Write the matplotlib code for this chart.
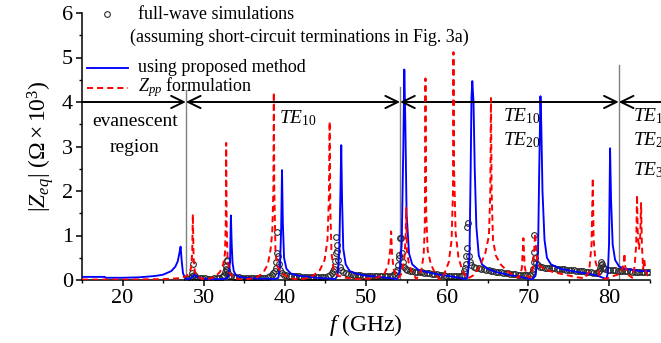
import matplotlib
matplotlib.use('Agg')
import matplotlib.pyplot as plt
from matplotlib.ticker import MultipleLocator
from matplotlib.lines import Line2D

plt.rcParams['font.family'] = ['Liberation Serif', 'DejaVu Serif']
plt.rcParams['mathtext.fontset'] = 'custom'
plt.rcParams['mathtext.rm'] = 'Liberation Serif'
plt.rcParams['mathtext.it'] = 'Liberation Serif:italic'
plt.rcParams['mathtext.bf'] = 'Liberation Serif:bold'

# ---------------- data ----------------
# full-wave simulations (open circles)
fw_f = [28.0, 28.3, 28.5, 28.6, 28.66, 28.75, 28.9, 29.2, 29.5, 29.8, 30.1, 30.4, 30.7, 31.0, 31.3, 31.6, 31.9,
        32.2, 32.4, 32.55, 32.65, 32.72, 32.78, 32.82, 32.86, 32.92, 33.0, 33.15, 33.4, 33.7, 34.0, 34.3, 34.6,
        34.9, 35.2, 35.5, 35.8, 36.1, 36.4, 36.7, 37.0, 37.3, 37.6, 37.9, 38.2, 38.45, 38.6, 38.75, 38.85, 38.93,
        39.0, 39.08, 39.15, 39.25, 39.4, 39.6, 39.9, 40.2, 40.5, 40.8, 41.1, 41.4, 41.7, 42.0, 42.3, 42.6, 42.9,
        43.2, 43.5, 43.8, 44.1, 44.4, 44.7, 45.0, 45.3, 45.55, 45.75, 45.9, 46.05, 46.15, 46.25, 46.33, 46.4,
        46.48, 46.6, 46.75, 46.95, 47.2, 47.5, 47.8, 48.1, 48.4, 48.7, 49.0, 49.3, 49.6, 49.9, 50.2, 50.5, 50.8,
        51.1, 51.4, 51.7, 52.0, 52.3, 52.6, 52.9, 53.2, 53.45, 53.65, 53.8, 53.92, 54.02, 54.12, 54.25, 54.32,
        54.42, 54.55, 54.7, 54.9, 55.1, 55.4, 55.7, 56.0, 56.3, 56.6, 56.9, 57.2, 57.5, 57.8, 58.1, 58.4, 58.7,
        59.0, 59.3, 59.6, 59.9, 60.2, 60.5, 60.8, 61.1, 61.4, 61.7, 61.95, 62.1, 62.2, 62.3, 62.38, 62.44, 62.5,
        62.55, 62.65, 62.8, 63.0, 63.3, 63.6, 63.9, 64.2, 64.5, 64.8, 65.1, 65.4, 65.7, 66.0, 66.3, 66.6, 66.9,
        67.2, 67.5, 67.8, 68.1, 68.4, 68.7, 69.0, 69.3, 69.6, 69.9, 70.2, 70.4, 70.52, 70.6, 70.66, 70.71, 70.76,
        70.85, 70.98, 71.15, 71.4, 71.7, 72.0, 72.3, 72.6, 72.9, 73.2, 73.5, 73.8, 74.1, 74.4, 74.7, 75.0, 75.3,
        75.6, 75.9, 76.2, 76.5, 76.8, 77.1, 77.4, 77.7, 78.0, 78.3, 78.55, 78.7, 78.82, 78.92, 78.98, 79.06,
        79.15, 79.3, 79.5, 79.8, 80.1, 80.4, 80.7, 81.0, 81.3, 81.6, 81.9, 82.2, 82.5, 82.8, 83.1, 83.4, 83.7,
        84.0, 84.3, 84.6, 84.9]
fw_z = [0.03, 0.05, 0.10, 0.15, 0.35, 0.12, 0.08, 0.05, 0.04, 0.04, 0.04, 0.03, 0.03, 0.03, 0.04, 0.04, 0.05,
        0.06, 0.08, 0.12, 0.18, 0.25, 0.32, 0.42, 0.45, 0.22, 0.15, 0.10, 0.08, 0.07, 0.06, 0.06, 0.05,
        0.05, 0.05, 0.05, 0.04, 0.04, 0.04, 0.04, 0.04, 0.05, 0.05, 0.06, 0.08, 0.11, 0.15, 0.20, 0.27, 0.40,
        1.08, 0.60, 0.55, 0.35, 0.22, 0.15, 0.12, 0.11, 0.10, 0.09, 0.09, 0.08, 0.08, 0.07, 0.07, 0.07, 0.06,
        0.06, 0.06, 0.06, 0.06, 0.06, 0.07, 0.07, 0.09, 0.11, 0.15, 0.20, 0.24, 0.42, 0.60, 0.97, 0.79,
        0.65, 0.45, 0.30, 0.22, 0.17, 0.15, 0.14, 0.13, 0.12, 0.12, 0.11, 0.11, 0.10, 0.10, 0.09, 0.09, 0.09,
        0.08, 0.08, 0.08, 0.08, 0.08, 0.08, 0.09, 0.10, 0.13, 0.17, 0.22, 0.34, 0.50, 0.56, 0.94, 0.95,
        0.60, 0.40, 0.30, 0.25, 0.23, 0.21, 0.20, 0.19, 0.18, 0.17, 0.17, 0.16, 0.15, 0.15, 0.14, 0.13, 0.13,
        0.12, 0.12, 0.11, 0.10, 0.10, 0.09, 0.09, 0.08, 0.08, 0.09, 0.12, 0.20, 0.27, 0.35, 0.53, 0.72, 1.20,
        1.28, 0.55, 0.40, 0.33, 0.30, 0.28, 0.27, 0.25, 0.24, 0.23, 0.22, 0.21, 0.20, 0.19, 0.18, 0.17, 0.16,
        0.16, 0.15, 0.14, 0.14, 0.13, 0.12, 0.12, 0.11, 0.11, 0.11, 0.12, 0.15, 0.20, 0.25, 0.40, 0.62, 1.01,
        0.50, 0.38, 0.33, 0.30, 0.29, 0.28, 0.27, 0.27, 0.26, 0.26, 0.25, 0.25, 0.24, 0.24, 0.23, 0.23, 0.22,
        0.22, 0.21, 0.21, 0.20, 0.20, 0.19, 0.18, 0.17, 0.16, 0.15, 0.17, 0.20, 0.26, 0.33, 0.41, 0.36,
        0.30, 0.26, 0.24, 0.23, 0.23, 0.22, 0.22, 0.21, 0.21, 0.20, 0.20, 0.20, 0.20, 0.19, 0.19, 0.19, 0.19,
        0.18, 0.18, 0.18, 0.18]

# using proposed method (blue line)
blue_f = [15.0, 17.8, 17.9, 20.0, 22.0, 24.0, 25.0, 26.0, 26.5, 26.8, 27.0, 27.15, 27.3, 27.45, 27.7, 27.9,
          28.3, 28.7, 28.9, 29.1, 29.5, 30.0, 31.0, 32.0, 32.8, 33.1, 33.25, 33.35, 33.45, 33.55, 33.7, 34.0,
          34.5, 35.0, 36.0, 37.0, 38.0, 38.8, 39.2, 39.4, 39.55, 39.65, 39.75, 39.9, 40.2, 40.7, 41.5, 42.5,
          44.0, 45.5, 46.2, 46.5, 46.7, 46.85, 46.95, 47.05, 47.2, 47.5, 48.0, 49.0, 50.0, 51.0, 52.0, 53.0,
          53.8, 54.1, 54.4, 54.6, 54.72, 54.85, 55.0, 55.3, 55.7, 56.5, 57.5, 59.0, 60.5, 61.5, 62.2, 62.5,
          62.75, 62.9, 63.0, 63.1, 63.25, 63.4, 63.6, 63.9, 64.3, 65.0, 66.0, 67.5, 69.0, 70.0, 70.5, 70.9,
          71.2, 71.35, 71.5, 71.6, 71.75, 72.0, 72.3, 72.8, 74.0, 76.0, 77.5, 78.5, 79.2, 79.6, 79.8, 79.95,
          80.08, 80.2, 80.4, 80.7, 81.2, 82.0, 83.0, 84.0, 85.0]
blue_z = [0.07, 0.07, 0.05, 0.05, 0.06, 0.09, 0.12, 0.20, 0.30, 0.42, 0.60, 0.75, 0.40, 0.15, 0.05, 0.02,
          0.03, 0.08, 0.12, 0.08, 0.04, 0.03, 0.02, 0.02, 0.03, 0.10, 0.45, 1.45, 0.80, 0.40, 0.20, 0.10,
          0.07, 0.05, 0.04, 0.03, 0.03, 0.02, 0.05, 0.30, 1.20, 2.47, 1.30, 0.50, 0.25, 0.15, 0.10, 0.08,
          0.05, 0.03, 0.02, 0.10, 0.60, 2.00, 3.03, 1.80, 0.70, 0.35, 0.20, 0.13, 0.10, 0.08, 0.06, 0.04,
          0.02, 0.10, 0.80, 3.00, 4.73, 3.50, 1.50, 0.60, 0.35, 0.22, 0.18, 0.12, 0.08, 0.05, 0.02, 0.05,
          0.50, 2.50, 4.10, 4.47, 4.00, 2.50, 1.20, 0.55, 0.35, 0.25, 0.18, 0.12, 0.07, 0.03, 0.01, 0.10,
          0.60, 2.50, 4.13, 3.50, 2.00, 0.90, 0.50, 0.35, 0.25, 0.18, 0.14, 0.10, 0.05, 0.02, 0.15, 0.80,
          2.96, 1.80, 0.80, 0.45, 0.30, 0.25, 0.22, 0.20, 0.20]

# Zpp formulation (red dashed)
red_f = [15.0, 20.0, 25.0, 27.0, 27.8, 28.2, 28.45, 28.58, 28.66, 28.75, 28.9, 29.2, 29.7, 30.5, 31.3, 32.0,
         32.4, 32.62, 32.72, 32.77, 32.83, 32.95, 33.2, 33.7, 34.5, 35.5, 36.5, 37.3, 37.9, 38.25, 38.45, 38.58,
         38.64, 38.7, 38.85, 39.1, 39.6, 40.5, 41.5, 42.5, 43.5, 44.3, 44.9, 45.25, 45.42, 45.52, 45.6, 45.75,
         46.0, 46.5, 47.5, 49.0, 50.5, 51.5, 52.3, 52.75, 53.0, 53.1, 53.2, 53.4, 53.7, 54.0, 54.4, 54.7,
         54.88, 54.95, 55.05, 55.25, 55.6, 56.2, 56.8, 57.1, 57.25, 57.33, 57.42, 57.6, 58.0, 58.6, 59.1, 59.6,
         60.2, 60.55, 60.72, 60.78, 60.85, 61.05, 61.4, 61.9, 62.5, 63.2, 64.0, 64.7, 65.15, 65.32, 65.4, 65.48,
         65.65, 66.0, 66.6, 67.4, 68.2, 68.8, 69.2, 69.4, 69.55, 69.8, 70.2, 70.6, 70.85, 71.0, 71.15, 71.5,
         72.0, 73.0, 74.5, 76.0, 77.0, 77.5, 77.8, 77.95, 78.05, 78.3, 78.8, 79.5, 80.3, 81.0, 81.5, 81.75,
         81.85, 81.95, 82.3, 82.8, 83.1, 83.3, 83.4, 83.5, 83.65, 83.8, 83.9, 84.0, 84.15, 84.3, 84.45, 84.7,
         85.0]
red_z = [0.01, 0.01, 0.02, 0.04, 0.08, 0.15, 0.28, 0.60, 1.48, 0.50, 0.20, 0.08, 0.03, 0.02, 0.06, 0.18,
         0.35, 0.60, 1.30, 3.08, 1.20, 0.45, 0.15, 0.05, 0.01, 0.02, 0.06, 0.15, 0.35, 0.70, 1.08, 2.00,
         4.22, 2.00, 0.60, 0.30, 0.15, 0.05, 0.01, 0.03, 0.10, 0.22, 0.45, 0.90, 1.80, 3.56, 1.60, 0.60,
         0.25, 0.10, 0.05, 0.02, 0.03, 0.06, 0.15, 0.35, 0.70, 1.09, 0.60, 0.25, 0.08, 0.05, 0.15, 0.45,
         0.90, 1.62, 0.65, 0.40, 0.20, 0.02, 0.20, 0.55, 1.20, 4.53, 1.50, 0.67, 0.35, 0.12, 0.01, 0.12,
         0.40, 0.90, 2.00, 5.12, 2.50, 1.05, 0.50, 0.20, 0.03, 0.10, 0.30, 0.60, 1.00, 2.00, 4.09, 2.00,
         0.90, 0.55, 0.35, 0.20, 0.10, 0.05, 0.25, 0.94, 0.30, 0.10, 0.05, 0.30, 1.05, 0.60, 0.40, 0.30,
         0.25, 0.18, 0.12, 0.06, 0.04, 0.20, 0.80, 2.29, 0.90, 0.40, 0.10, 0.02, 0.08, 0.12, 0.20, 0.35,
         0.60, 0.30, 0.12, 0.05, 0.30, 0.80, 1.91, 1.00, 0.70, 1.00, 1.73, 0.80, 0.25, 0.45, 0.20, 0.10,
         0.12]

# mode cut-off boundaries and annotation labels
cutoff_f = [27.8, 54.2, 81.15]
cutoff_top = [4.27, 4.34, 4.83]
arrow_y = 4.0
mode_labels = [r'$\mathit{TE}_{10}$', r'$\mathit{TE}_{20}$', r'$\mathit{TE}_{30}$']

# ---------------- figure ----------------
fig = plt.figure(figsize=(6.61, 3.43), dpi=100)
ax = fig.add_axes([82/661, 63/343, 568/661, 267/343])

ax.plot(fw_f, fw_z, 'o', ms=4.1, mfc='none', mec='#2a2a2a', mew=0.8, zorder=2)
ax.plot(blue_f, blue_z, color='#0000ff', lw=1.35, zorder=3)
ax.plot(red_f, red_z, color='#ff0000', lw=1.4, ls=(0, (3.1, 2.1)), zorder=4)

# vertical cut-off lines
for xc, yt in zip(cutoff_f, cutoff_top):
    ax.plot([xc, xc], [0, yt], color='#808080', lw=1.0, zorder=1)

# arrows at y = 4
aprops = dict(lw=1.4, color='k', shrinkA=0, shrinkB=0, mutation_scale=20)
ax.annotate('', xy=(cutoff_f[0], arrow_y), xytext=(15, arrow_y),
            arrowprops=dict(arrowstyle='->,head_length=0.45,head_width=0.22', **aprops), annotation_clip=False)
ax.annotate('', xy=(cutoff_f[1], arrow_y), xytext=(cutoff_f[0], arrow_y),
            arrowprops=dict(arrowstyle='<->,head_length=0.45,head_width=0.22', **aprops), annotation_clip=False)
ax.annotate('', xy=(cutoff_f[2], arrow_y), xytext=(cutoff_f[1], arrow_y),
            arrowprops=dict(arrowstyle='<->,head_length=0.45,head_width=0.22', **aprops), annotation_clip=False)
ax.annotate('', xy=(cutoff_f[2], arrow_y), xytext=(86.4, arrow_y),
            arrowprops=dict(arrowstyle='->,head_length=0.45,head_width=0.22', **aprops), annotation_clip=False)

# region labels
ax.text(21.5, 3.45, 'evanescent', fontsize=14, ha='center', va='baseline')
ax.text(21.5, 2.88, 'region', fontsize=14, ha='center', va='baseline')
ax.text(39.3, 3.53, mode_labels[0], fontsize=14, ha='left', va='baseline')
ax.text(66.85, 3.56, mode_labels[0], fontsize=14, ha='left', va='baseline')
ax.text(66.85, 3.03, mode_labels[1], fontsize=14, ha='left', va='baseline')
for lab, yy in zip(mode_labels, [3.56, 3.03, 2.36]):
    ax.text(82.85, yy, lab, fontsize=14, ha='left', va='baseline', clip_on=False)

# manual legend (axes coordinates)
tr = ax.transAxes
ax.add_line(Line2D([0.044], [0.997], transform=tr, marker='o', ms=4.1, mfc='none', mec='#2a2a2a',
                   mew=0.8, ls='none', clip_on=False))
ax.text(0.0986, 0.995, 'full-wave simulations', transform=tr, fontsize=13, va='center', ha='left')
ax.text(0.0845, 0.91, '(assuming short-circuit terminations in Fig. 3a)', transform=tr, fontsize=13,
        va='center', ha='left')
ax.add_line(Line2D([0.0088, 0.081], [0.794, 0.794], transform=tr, color='#0000ff', lw=1.35, clip_on=False))
ax.text(0.0986, 0.795, 'using proposed method', transform=tr, fontsize=13, va='center', ha='left')
ax.add_line(Line2D([0.0088, 0.081], [0.719, 0.719], transform=tr, color='#ff0000', lw=1.4,
                   ls=(0, (3.1, 2.1)), clip_on=False))
ax.text(0.0986, 0.722, r'$Z_{pp}$ formulation', transform=tr, fontsize=13, va='center', ha='left')

# axes styling
ax.set_xlim(15, 85)
ax.set_ylim(0, 6)
ax.xaxis.set_major_locator(MultipleLocator(10))
ax.xaxis.set_minor_locator(MultipleLocator(5))
ax.yaxis.set_major_locator(MultipleLocator(1))
ax.yaxis.set_minor_locator(MultipleLocator(0.5))
for s in ['top', 'right']:
    ax.spines[s].set_visible(False)
for s in ['left', 'bottom']:
    ax.spines[s].set_linewidth(1.1)
ax.tick_params(which='major', direction='out', length=4.5, width=1.1, labelsize=16, pad=2)
ax.tick_params(which='minor', direction='out', length=2.5, width=1.0)
ax.set_xlabel(r'$f$ (GHz)', fontsize=17, labelpad=3)
ax.set_ylabel(r'$|Z_{eq}|\ (\Omega\times10^3)$', fontsize=17, labelpad=4)

fig.savefig('out.png', dpi=100)
